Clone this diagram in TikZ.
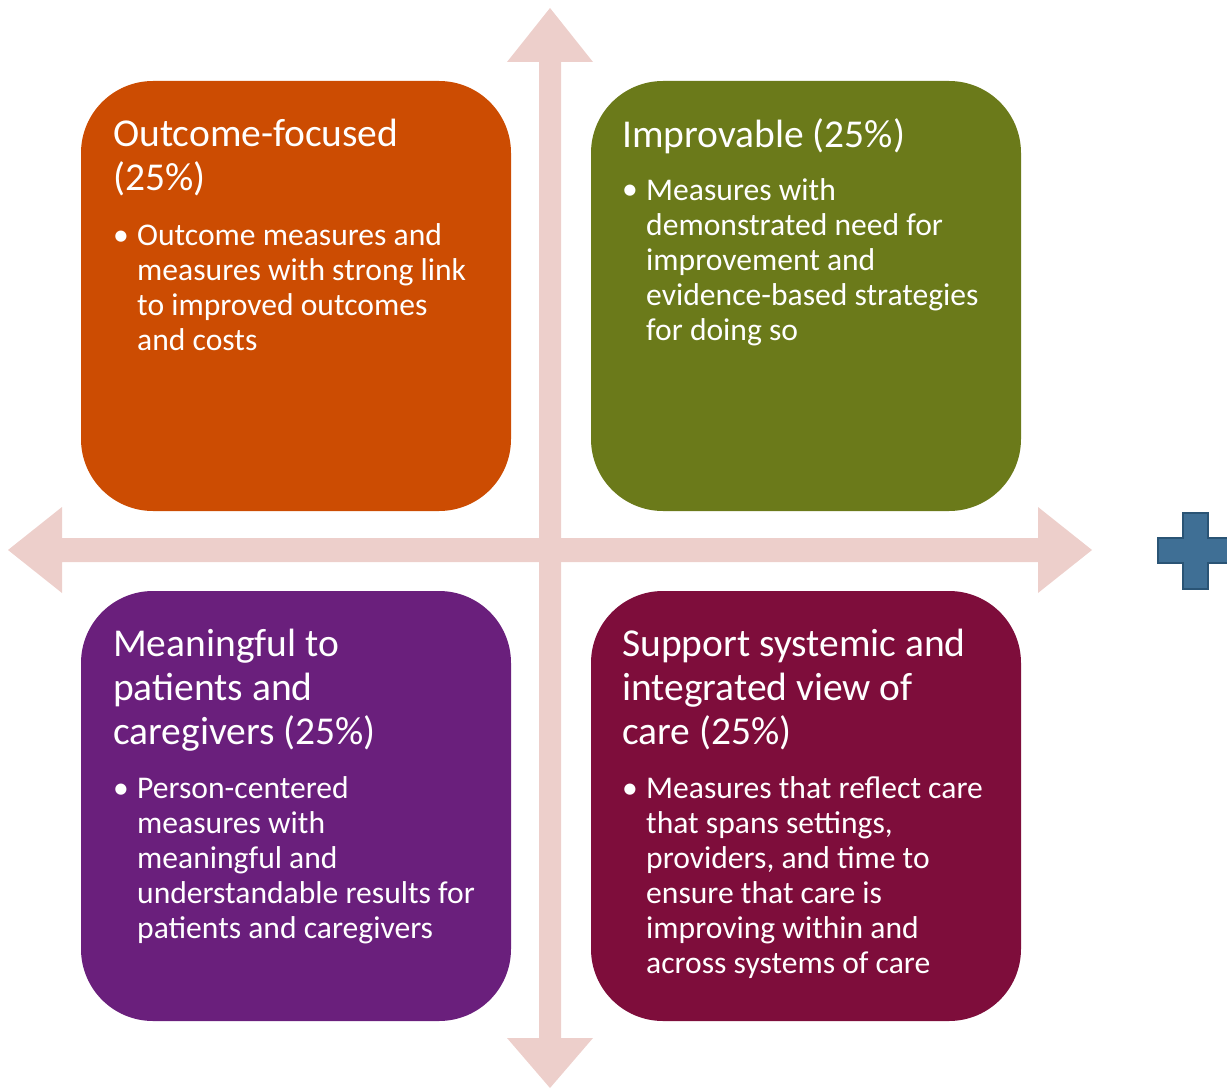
\documentclass[tikz,border=0pt]{standalone}
\usepackage{fontspec}
\setmainfont{Carlito}
\definecolor{arrowpink}{HTML}{EDCFCB}
\definecolor{cOrange}{HTML}{CC4C02}
\definecolor{cOlive}{HTML}{6B7A1A}
\definecolor{cPurple}{HTML}{6A1F7C}
\definecolor{cMaroon}{HTML}{7E0D3B}
\definecolor{plusfill}{HTML}{3F6F95}
\definecolor{plusdraw}{HTML}{2A5475}
\begin{document}
\begin{tikzpicture}[x=1pt,y=-1pt,
  quad/.style={rounded corners=72pt, minimum width=430pt, minimum height=430pt, inner sep=0pt, draw=none},
  ttl/.style={anchor=base west, inner sep=0pt, text=white, align=left, font=\fontsize{39.5}{44}\selectfont},
  bul/.style={anchor=base west, inner sep=0pt, text=white, align=left, font=\fontsize{31.6}{35}\selectfont},
  dot/.style={anchor=base west, inner sep=0pt, text=white, font=\fontsize{31.6}{35}\selectfont}]
\useasboundingbox (0,0) rectangle (1227,1089);
% axes
\fill[arrowpink] (539,62) -- (507,62) -- (550,8) -- (593,62) -- (561,62) -- (561,1038) -- (593,1038) -- (550,1088) -- (507,1038) -- (539,1038) -- cycle;
\fill[arrowpink] (62,538) -- (62,507) -- (8,550) -- (62,593) -- (62,562) -- (1038,562) -- (1038,593) -- (1092,550) -- (1038,507) -- (1038,538) -- cycle;
% boxes
\node[quad, fill=cOrange] (tl) at (296,296) {};
\node[quad, fill=cOlive] (tr) at (806,296) {};
\node[quad, fill=cPurple] (bl) at (296,806) {};
\node[quad, fill=cMaroon] (br) at (806,806) {};
% top left (base anchor = last line's baseline)
\node[ttl] (tlt) at (113,191) {Outcome-focused\\(25\%)};
\node[dot] (tld) at (113,245) {\textbullet};
\node[bul] (tlb) at (137,350) {Outcome measures and\\measures with strong link\\to improved outcomes\\and costs};
% top right
\node[ttl] (trt) at (622,148) {Improvable (25\%)};
\node[dot] (trd) at (622,200) {\textbullet};
\node[bul] (trb) at (646,340) {Measures with\\demonstrated need for\\improvement and\\evidence-based strategies\\for doing so};
% bottom left
\node[ttl] (blt) at (113,744) {Meaningful to\\patients and\\caregivers (25\%)};
\node[dot] (bld) at (113,798) {\textbullet};
\node[bul] (blb) at (137,938) {Person-centered\\measures with\\meaningful and\\understandable results for\\patients and caregivers};
% bottom right
\node[ttl] (brt) at (622,744) {Support systemic and\\integrated view of\\care (25\%)};
\node[dot] (brd) at (622,798) {\textbullet};
\node[bul] (brb) at (646,973) {Measures that reflect care\\that spans settings,\\providers, and time to\\ensure that care is\\improving within and\\across systems of care};
% plus sign
\filldraw[fill=plusfill, draw=plusdraw, line width=2.5pt] (1183,513) -- (1208,513) -- (1208,538) -- (1233,538) -- (1233,563) -- (1208,563) -- (1208,589) -- (1183,589) -- (1183,563) -- (1158,563) -- (1158,538) -- (1183,538) -- cycle;
\end{tikzpicture}
\end{document}
